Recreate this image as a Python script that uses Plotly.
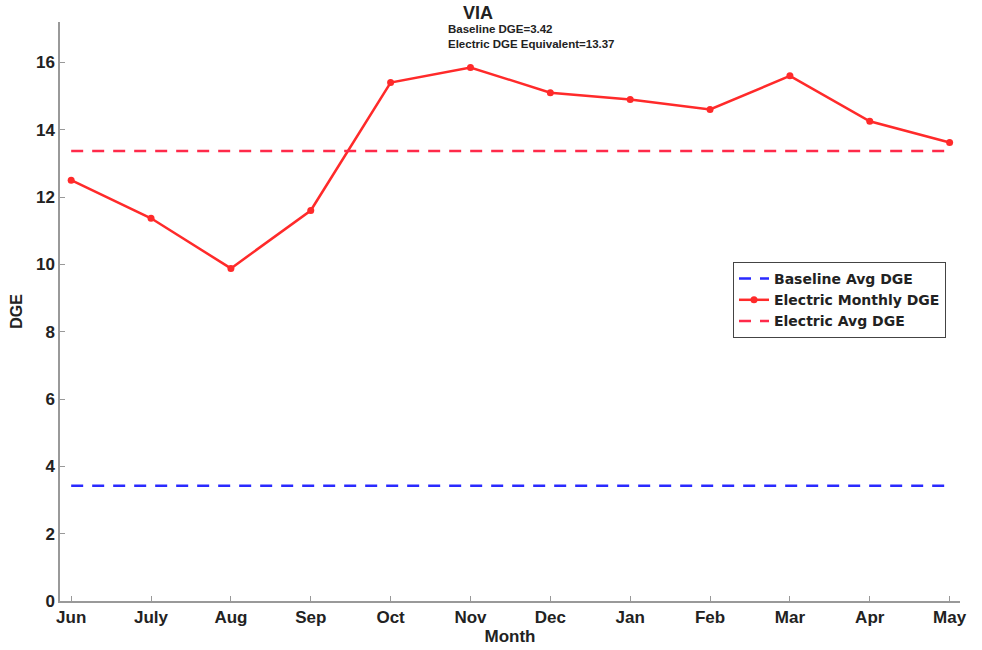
import plotly.graph_objects as go

months = ["Jun", "July", "Aug", "Sep", "Oct", "Nov", "Dec", "Jan", "Feb", "Mar", "Apr", "May"]
electric_monthly = [12.5, 11.37, 9.88, 11.6, 15.4, 15.85, 15.1, 14.9, 14.6, 15.6, 14.25, 13.62]
baseline_avg = 3.42
electric_avg = 13.37

xi = list(range(len(months)))
FONT = "Liberation Sans, Arial, sans-serif"

fig = go.Figure()
fig.add_trace(go.Scatter(
    x=[xi[0], xi[-1]], y=[baseline_avg, baseline_avg], mode="lines",
    name="Baseline Avg DGE",
    line=dict(color="#2a2aff", width=2.5, dash="12px,9px")))
fig.add_trace(go.Scatter(
    x=xi, y=electric_monthly, mode="lines+markers",
    name="Electric Monthly DGE",
    line=dict(color="#ff2a2a", width=2.5),
    marker=dict(color="#ff2a2a", size=7, symbol="circle")))
fig.add_trace(go.Scatter(
    x=[xi[0], xi[-1]], y=[electric_avg, electric_avg], mode="lines",
    name="Electric Avg DGE",
    line=dict(color="#ff2a4a", width=2.5, dash="12px,9px")))

W, H = 982, 650
L, T = 60, 22
R = W - 960
B = H - 601
PW, PH = W - L - R, H - T - B


def px(x):
    return (x - L) / PW


def py(y):
    return 1 - (y - T) / PH


fig.update_layout(
    width=W, height=H,
    margin=dict(l=L, r=R, t=T, b=B, autoexpand=False),
    paper_bgcolor="white", plot_bgcolor="white",
    font=dict(family=FONT, color="#222222"),
    showlegend=True,
    legend=dict(x=px(733), y=py(262), xanchor="left", yanchor="top",
                bgcolor="white", bordercolor="#444444", borderwidth=1,
                font=dict(family="DejaVu Sans, sans-serif", size=14, weight="bold", color="#222222"),
                tracegroupgap=0, itemwidth=30),
    xaxis=dict(
        tickmode="array", tickvals=xi, ticktext=months,
        range=[-0.14, 11.13], automargin=False,
        showgrid=False, zeroline=False,
        showline=True, linecolor="#999999", linewidth=1.5,
        ticks="inside", ticklen=5, tickcolor="#999999",
        tickfont=dict(size=17, weight="bold", color="#222222"),
        title=dict(text="Month", font=dict(size=17, weight="bold", color="#222222"), standoff=3),
    ),
    yaxis=dict(
        range=[0, 17.2], tickvals=[0, 2, 4, 6, 8, 10, 12, 14, 16], automargin=False,
        showgrid=False, zeroline=False,
        showline=True, linecolor="#999999", linewidth=1.5,
        ticks="inside", ticklen=5, tickcolor="#999999",
        tickfont=dict(size=17, weight="bold", color="#222222"),
        title=dict(text="DGE", font=dict(size=16, weight="bold", color="#222222"), standoff=9),
    ),
)

fig.add_annotation(xref="paper", yref="paper",
                   x=px(478), y=py(13),
                   text="<b>VIA</b>", showarrow=False,
                   font=dict(size=18, color="#222222"), xanchor="center", yanchor="middle")
fig.add_annotation(xref="paper", yref="paper",
                   x=px(446), y=py(37),
                   text="<b>Baseline DGE=3.42</b><br><b>Electric DGE Equivalent=13.37</b>",
                   showarrow=False, align="left",
                   font=dict(size=11.5, color="#222222"), xanchor="left", yanchor="middle")

fig.write_html("out.html", config={"displayModeBar": False},
               post_script="document.body.style.margin='0';")
